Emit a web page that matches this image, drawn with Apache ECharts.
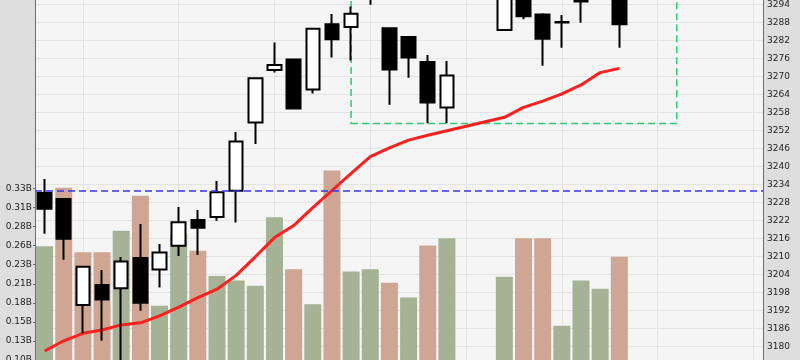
<!DOCTYPE html>
<html>
<head>
<meta charset="utf-8">
<script src="https://cdn.jsdelivr.net/npm/echarts@6/dist/echarts.min.js"></script>
<style>
  html, body { margin: 0; padding: 0; background: #dedede; }
  #main { width: 800px; height: 360px; }
</style>
</head>
<body>
<div id="main"></div>
<script>
// 日期 (只有前31天有数据)
const dates = [
  "2017-07-03", "2017-07-04", "2017-07-05", "2017-07-06", "2017-07-07",
  "2017-07-10", "2017-07-11", "2017-07-12", "2017-07-13", "2017-07-14",
  "2017-07-17", "2017-07-18", "2017-07-19", "2017-07-20", "2017-07-21",
  "2017-07-24", "2017-07-25", "2017-07-26", "2017-07-27", "2017-07-28",
  "2017-07-31", "2017-08-01", "2017-08-02", "2017-08-03", "2017-08-04",
  "2017-08-07", "2017-08-08", "2017-08-09", "2017-08-10", "2017-08-11",
  "2017-08-14", "2017-08-15", "2017-08-16", "2017-08-17", "2017-08-18",
  "2017-08-21", "2017-08-22", "2017-08-23",
];
const opens = [
  3231.2, 3229.2, 3193.8, 3200.5, 3199.4, 3209.5, 3205.7, 3213.6, 3222.2, 3223.2,
  3231.9, 3254.7, 3272.2, 3275.7, 3265.7, 3287.4, 3286.5, 3297.5, 3286.1, 3283.2,
  3274.8, 3259.7, "-", "-", 3285.5, 3298.0, 3290.7, 3288.2, 3295.3, 3297.0, 3299.0,
];
const closes = [
  3225.9, 3215.9, 3206.6, 3195.7, 3208.3, 3194.6, 3211.3, 3221.4, 3219.6, 3231.4,
  3248.3, 3269.4, 3273.8, 3259.3, 3285.9, 3282.4, 3290.9, 3302.0, 3272.3, 3276.3,
  3261.3, 3270.3, "-", "-", 3300.0, 3290.1, 3282.6, 3288.0, 3295.0, 3303.0, 3287.4,
];
const lows = [
  3217.6, 3208.9, 3184.4, 3181.9, 3168.0, 3191.9, 3199.7, 3210.2, 3210.5, 3221.9,
  3221.3, 3247.5, 3271.3, 3259.3, 3264.3, 3276.3, 3275.3, 3293.9, 3260.6, 3269.6,
  3254.4, 3254.4, "-", "-", 3285.4, 3289.1, 3273.6, 3279.6, 3287.9, 3296.0, 3279.6,
];
const highs = [
  3235.8, 3229.5, 3206.8, 3205.5, 3209.8, 3220.8, 3214.2, 3226.5, 3225.5, 3235.2,
  3251.5, 3269.6, 3281.3, 3276.0, 3286.0, 3290.8, 3293.3, 3304.0, 3286.3, 3283.4,
  3277.2, 3275.2, "-", "-", 3303.0, 3300.0, 3291.1, 3290.5, 3300.0, 3306.0, 3301.0,
];
const volumes = [
  256000000, 335000000, 248000000, 248000000, 277000000, 324000000, 176000000, 272000000,
  250000000, 216000000, 210000000, 203000000, 295000000, 225000000, 178000000, 358000000,
  222000000, 225000000, 207000000, 187000000, 257000000, 267000000, "-", "-",
  215000000, 267000000, 267000000, 149000000, 210000000, 199000000, 242000000,
];
const ma = [
  3178.5, 3181.9, 3184.4, 3185.5, 3187.2, 3187.9, 3190.2, 3193.1, 3196.3, 3199.1,
  3203.7, 3209.9, 3216.3, 3220.3, 3226.3, 3232.0, 3237.7, 3243.3, 3246.2, 3248.8,
  3250.4, 3251.9, "-", "-", 3256.4, 3259.7, 3261.8, 3264.2, 3267.2, 3271.3, 3272.7,
];
// 成交量轴刻度 (0.10B ... 0.33B)
const volTicks = [
  102800000, 128500000, 154200000, 179900000, 205600000,
  231300000, 257000000, 282700000, 308400000, 334100000,
];
const prevClose = 3220; // 前一日收盘
const markValue = 3232; // 蓝色虚线
const boxStart = 16;
const boxEnd = 33;
const boxLow = 3254.3;
const boxHigh = 3330;

const upVolColor = "#a5b296";
const downVolColor = "#cfa694";

const candleData = opens.map((o, i) =>
  o === "-" ? ["-", "-", "-", "-"] : [o, closes[i], lows[i], highs[i]]
);
let last = prevClose;
const volData = volumes.map((v, i) => {
  if (v === "-") return "-";
  const c = closes[i];
  const item = { value: v, itemStyle: { color: c >= last ? upVolColor : downVolColor } };
  last = c;
  return item;
});

const labelStyle = { color: "#222", fontFamily: "DejaVu Sans", fontSize: 9 };

const myChart = echarts.init(document.getElementById("main"));
myChart.setOption({
  backgroundColor: "#dedede",
  animation: false,
  grid: {
    left: 35,
    right: 37,
    top: -13.5,
    bottom: -76.5,
    outerBoundsMode: "none",
    containLabel: false,
    show: true,
    backgroundColor: "#f5f5f5",
    borderWidth: 0,
  },
  xAxis: {
    type: "category",
    data: dates,
    boundaryGap: true,
    axisLine: { show: false },
    axisTick: { show: false },
    axisLabel: { show: false },
    splitLine: {
      show: true,
      interval: (i) => i % 5 === 2,
      alignWithLabel: true,
      lineStyle: { color: "#e4e4e4", width: 1 },
    },
  },
  yAxis: [
    {
      type: "value",
      position: "left",
      min: 0,
      max: 605800000,
      axisLine: { show: true, lineStyle: { color: "#6e6e6e", width: 1 } },
      axisTick: {
        show: true,
        length: 2,
        customValues: volTicks,
        lineStyle: { color: "#6e6e6e" },
      },
      splitLine: { show: false },
      axisLabel: {
        ...labelStyle,
        margin: 3,
        customValues: volTicks,
        formatter: (v) => (v / 1e9).toFixed(2) + "B",
      },
    },
    {
      type: "value",
      position: "right",
      min: 3150,
      max: 3300,
      interval: 6,
      axisLine: { show: true, lineStyle: { color: "#6e6e6e", width: 1 } },
      axisTick: { show: false },
      splitLine: { show: true, lineStyle: { color: "#e4e4e4", width: 1 } },
      axisLabel: { ...labelStyle, margin: 4, formatter: (v) => String(v) },
    },
  ],
  series: [
    {
      name: "成交量",
      type: "bar",
      yAxisIndex: 0,
      barWidth: 17,
      data: volData,
      z: 1,
    },
    {
      name: "MA",
      type: "line",
      yAxisIndex: 1,
      data: ma,
      symbol: "none",
      connectNulls: true,
      lineStyle: { color: "#ff1f1f", width: 3 },
      z: 3,
    },
    {
      name: "K线",
      type: "candlestick",
      yAxisIndex: 1,
      barWidth: 14,
      data: candleData,
      z: 4,
      itemStyle: {
        color: "#ffffff",
        color0: "#000000",
        borderColor: "#000000",
        borderColor0: "#000000",
        borderWidth: 2,
      },
      markLine: {
        silent: true,
        symbol: ["none", "none"],
        label: { show: false },
        lineStyle: { color: "#3636ee", type: [7, 4], width: 1.5 },
        data: [{ yAxis: markValue }],
      },
      markArea: {
        silent: true,
        label: { show: false },
        itemStyle: {
          color: "rgba(0,0,0,0)",
          borderColor: "#2ecc71",
          borderWidth: 1.5,
          borderType: [7, 4],
        },
        data: [[{ coord: [boxStart, boxLow] }, { coord: [boxEnd, boxHigh] }]],
      },
    },
  ],
});
</script>
</body>
</html>
